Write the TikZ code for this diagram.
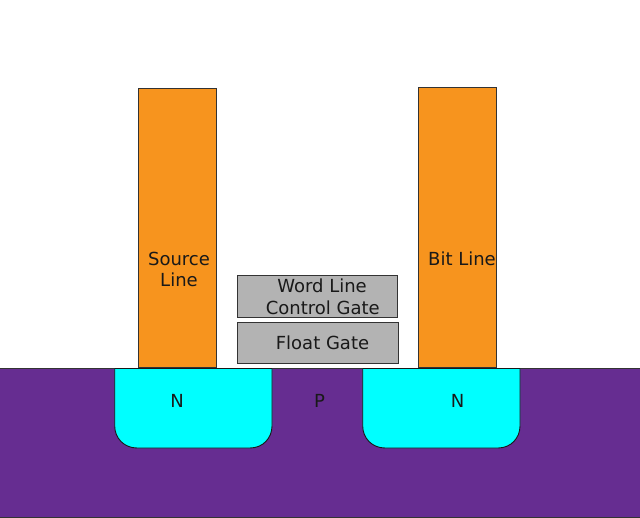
\documentclass[tikz,border=0pt]{standalone}
\usepackage{fontspec}
\setmainfont{DejaVu Sans}
\definecolor{org}{HTML}{F7941E}
\definecolor{pur}{HTML}{662D91}
\definecolor{cy}{HTML}{00FFFF}
\definecolor{gr}{HTML}{B3B3B3}
\tikzset{x=1pt,y=-1pt,
 part/.style={draw=black!80,line width=1pt,inner sep=0pt,outer sep=0pt},
 well/.style={draw=black!90,line width=0.9pt,fill=cy},
 lbl/.style={font=\fontsize{18}{21.5}\selectfont,align=center,inner sep=0pt,text=black!90}}
\begin{document}
\begin{tikzpicture}
\useasboundingbox (0,0) rectangle (640,518);
\fill[white] (0,0) rectangle (640,518);
\node[part,fill=pur,anchor=north west,minimum width=642pt,minimum height=149pt] (sub) at (-1,368.5) {};
\node[part,fill=org,anchor=north west,minimum width=78pt,minimum height=279.5pt] (src) at (138.2,88.5) {};
\node[part,fill=org,anchor=north west,minimum width=78pt,minimum height=280.5pt] (bit) at (418.2,87.5) {};
\node[part,fill=gr,anchor=north west,minimum width=160.5pt,minimum height=42.5pt] (wl) at (237.2,275.5) {};
\node[part,fill=gr,anchor=north west,minimum width=161pt,minimum height=41.5pt] (fg) at (237.7,322.5) {};
\path[well] (114.7,368.5) -- (114.7,426) .. controls (114.7,438) and (124,448) .. (137,448) -- (250,448) .. controls (263,448) and (272,438) .. (272,426) -- (272,368.5) -- cycle;
\path[well] (362.7,368.5) -- (362.7,426) .. controls (362.7,438) and (372,448) .. (385,448) -- (498,448) .. controls (511,448) and (520,438) .. (520,426) -- (520,368.5) -- cycle;
\node[lbl] (t1) at (179,269.5) {Source\\Line};
\node[lbl] (t2) at (462,259) {Bit Line};
\node[lbl] (t3) at (322.8,297) {Word Line\kern1.5pt\\Control Gate};
\node[lbl] (t4) at (322.5,343) {Float Gate};
\node[lbl] (n1) at (177,401) {N};
\node[lbl] (p) at (319.5,401) {P};
\node[lbl] (n2) at (457.5,401) {N};
\end{tikzpicture}
\end{document}
